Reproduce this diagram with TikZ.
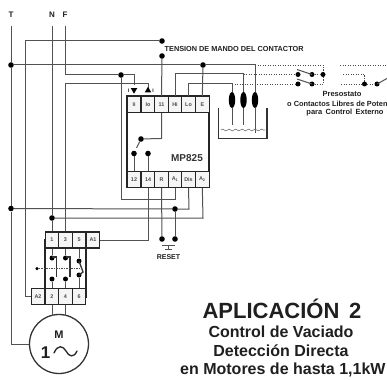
\documentclass[tikz,border=0pt]{standalone}
\usepackage{fontspec}
\setmainfont{Liberation Sans}
\usetikzlibrary{calc,decorations.pathmorphing,shapes.geometric}
\tikzset{
  wire/.style={draw=black!68,line width=1pt},
  heavy/.style={draw=black!80,line width=1.3pt},
  dotted wire/.style={draw=black!70,line width=0.8pt,dash pattern=on 1.2pt off 1.3pt},
  junction/.style={circle,fill=black,inner sep=0pt,minimum size=5.6pt},
  termbox/.style={draw=black!85,line width=1.2pt,fill=black!4,minimum width=13.7pt,minimum height=16pt,inner sep=0pt,text=black!70,font=\bfseries\fontsize{5.4}{6}\selectfont},
  tag/.style={inner sep=0pt,text=black!88,font=\bfseries\fontsize{#1}{#1}\selectfont},
  tag/.default=6,
  electrode/.style={ellipse,fill=black,inner sep=0pt,minimum width=6.4pt,minimum height=16pt},
  tipdown/.style={regular polygon,regular polygon sides=3,shape border rotate=180,fill=black,inner sep=0pt,minimum size=7.5pt},
  tipup/.style={regular polygon,regular polygon sides=3,fill=black,inner sep=0pt,minimum size=7.5pt}
}
\begin{document}
\begin{tikzpicture}[x=1pt,y=-1pt]
\useasboundingbox (0,0) rectangle (387,379);
% labels
\node[tag=8] (lT) at (11,15) {T};
\node[tag=8] (lN) at (52,15) {N};
\node[tag=8] (lF) at (65,15) {F};
\node[tag=7.3,anchor=west] (ltens) at (164.5,49) {TENSION DE MANDO DEL CONTACTOR};
% controller block
\node[draw=black!85,line width=1.2pt,minimum width=82pt,minimum height=91pt,inner sep=0pt] (mp) at (168,141.5) {};
\node[tag=10,text=black!80] (mpname) at (187,158) {MP825};
\foreach \n/\x/\t in {ii/134/Ii,io/148/Io,t11/161.5/11,hi/175/Hi,lo/188.5/Lo,e/202.3/E}
  \node[termbox] (\n) at (\x,104.5) {\t};
\foreach \n/\x/\t in {t12/134/12,t14/148/14,r/161.5/R,aa/175/A\textsubscript{1},dis/188.5/Dis,ab/202.3/A\textsubscript{2}}
  \node[termbox] (\n) at (\x,179.5) {\t};
% contactor
\node[draw=black!85,line width=1.2pt,minimum width=41pt,minimum height=57pt,inner sep=0pt] (km) at (65.5,268.5) {};
\foreach \n/\x/\t in {k1/52/1,k3/65.5/3,k5/79/5,ka1/93/A1}
  \node[termbox] (\n) at (\x,240) {\t};
\foreach \n/\x/\t in {ka2/38/A2,k2/52/2,k4/65.5/4,k6/79/6}
  \node[termbox] (\n) at (\x,296.5) {\t};
% motor
\node[circle,draw=black!80,line width=1.3pt,minimum size=59pt,inner sep=0pt] (mot) at (59,344) {};
\node[tag=11] (motM) at (59,335) {M};
\node[tag=17] (mot1) at (45.5,353) {1};
\draw[black!85,line width=1.3pt,line cap=round] (54,353) .. controls (58,344) and (63,346) .. (66,351) .. controls (69,357) and (74,358) .. (77,351);
% junctions
\node[junction] (jT1) at (11,65) {};
\node[junction] (jT2) at (11,208.5) {};
\node[junction] (jTop) at (162,41) {};
\node[junction] (jM) at (162,56) {};
\node[junction] (jF) at (121,75) {};
\node[junction] (jE) at (203,65) {};
\node[junction] (jC) at (141,139) {};
\node[junction] (c12) at (134,153.5) {};
\node[junction] (c14) at (148,153.5) {};
\node[junction] (jD) at (175,209) {};
\node[junction] (jN) at (52,218) {};
\node[junction] (rA) at (162,239) {};
\node[junction] (rB) at (175,239) {};
% electrodes
\node[electrode] (el1) at (232,100) {};
\node[electrode] (el2) at (243.5,100) {};
\node[electrode] (el3) at (255,100) {};
% main wires
\coordinate (tTop) at (11,26); \coordinate (nTop) at (52,26); \coordinate (fTop) at (65,26);
\draw[wire] (tTop) -- (jT1) -- (jT2) -- (11,344) -- (mot.west);
\draw[wire] (nTop) -- (jN) -- (k1.north);
\draw[wire] (k2.south) -- (52,316);
\draw[wire] (k4.south) -- (65.5,316);
\draw[wire] (fTop) -- (65,75) -- (jF) -- (134,75) -- (134,85);
\draw[wire] (jF) -- (121,199) -- (175,199) -- (aa.south);
\draw[wire] (jTop) -- (25,41) -- (25,296.5) -- (ka2.west);
\draw[wire] (k3.north) -- (65.5,84) -- (148,84) -- (148,88);
\draw[wire] (jT1) -- (jE) -- (255,65) -- (el3.north);
\draw[wire] (jE) -- (e.north);
\draw[wire] (jM) -- (t11.north);
\draw[wire] (t11.south) -- (161.5,138.5) -- (jC);
\draw[wire] (jT2) -- (jD) -- (189,209) -- (dis.south);
\draw[wire] (jN) -- (203,218) -- (ab.south);
\draw[wire] (ka1.east) -- (148,240) -- (t14.south);
\draw[wire] (r.south) -- (rA);
\draw[wire] (jD) -- (rB);
\draw[wire] (t12.north) -- (c12);
\draw[wire] (t14.north) -- (c14);
\draw[wire] (jC) -- (136.5,148);
\draw[wire] (hi.north) -- (175,74) -- (243.5,74) -- (el2.north);
\draw[wire] (lo.north) -- (188.5,84) -- (232,84) -- (el1.north);
\draw[wire] (el1.south) -- (232,125);
\draw[wire] (el2.south) -- (243.5,125);
\draw[wire] (el3.south) -- (255,133);
% input tips
\node[tipdown] (tipI) at (134,90) {};
\node[tipup] (tipO) at (148,90.5) {};
\node[tag=5] (markI) at (128.5,91) {I};
\node[tag=5] (markO) at (153,91) {I};
% tank
\draw[heavy] (218.5,108) -- (218.5,138.5) -- (267,138.5) -- (267,108);
\draw[black!55,line width=0.6pt,decorate,decoration={coil,aspect=0,segment length=6.5pt,amplitude=0.9pt}] (221,130) -- (265,130);
% reset button
\coordinate (rb) at (168.5,245);
\draw[wire] (162,245) -- (175,245);
\draw[wire] (rb) -- (168.5,249);
\draw[wire] (165,249) -- (172,249);
\node[tag=7] (lreset) at (168.5,257) {RESET};
% external contacts
\draw[dotted wire] (255,65) -- (323,65) -- (323,84);
\draw[dotted wire] (243.5,74) -- (297,74);
\draw[dotted wire] (232,84) -- (297,84);
\node[junction,minimum size=5pt] (ca1) at (298,74.5) {};
\node[junction,minimum size=5pt] (ca2) at (312,74.5) {};
\node[junction,minimum size=5pt] (cb1) at (298,84) {};
\node[junction,minimum size=5pt] (cb2) at (312,84) {};
\node[junction,minimum size=5pt] (cc) at (323,74.5) {};
\draw[dotted wire] (ca2) -- (cc);
\draw[dotted wire] (cb2) -- (323,84);
\draw[wire] (297,69.5) -- (312,74.5);
\draw[wire] (297,79) -- (312,84);
\draw[dotted wire] (340,65) -- (387,65);
\draw[dotted wire] (343,74.5) -- (364.5,74.5) -- (364.5,84);
\draw[dotted wire] (341,84) -- (364.5,84);
\node[junction,minimum size=5pt] (cd1) at (364.5,84) {};
\node[junction,minimum size=5pt] (cd2) at (377,84) {};
\draw[wire] (377,84) -- (387,78.5);
\draw[dotted wire] (cd1) -- (cd2);
\node[tag=7.5] (lp1) at (342,94) {Presostato};
\node[tag=7.4,anchor=west] (lp2) at (287,103.5) {o Contactos Libres de Poten};
\node[tag=7.5] (lp3) at (345,113) {para\, Control\, Externo};
% contactor contents
\node[junction,minimum size=5pt] (p1) at (52,258) {};
\node[junction,minimum size=5pt] (p2) at (65.5,258) {};
\node[junction,minimum size=5pt] (p3) at (79,261) {};
\node[junction,minimum size=5pt] (q1) at (52,279) {};
\node[junction,minimum size=5pt] (q2) at (65.5,279) {};
\node[junction,minimum size=5pt] (q3) at (79,275) {};
\draw[wire] (k3.south) -- (p2);
\draw[wire] (k5.south) -- (p3);
\draw[wire] (k1.south) -- (p1);
\draw[wire] (k2.north) -- (q1);
\draw[wire] (k4.north) -- (q2);
\draw[wire] (k6.north) -- (q3);
\foreach \x in {52,65.5}
  \draw[heavy] (\x,257) -- (\x+4.5,257) -- (\x+4.5,277);
\draw[heavy] (79,261) -- (83,272) -- (79,275);
\node[junction,minimum size=3.5pt] (mech) at (37,268.5) {};
\draw[dotted wire] (mech) -- (82,268.5);
% title
\node[tag=22] (tit) at (282,308.5) {APLICACIÓN\, 2};
\node[tag=16] (t1) at (281,332) {Control de Vaciado};
\node[tag=16] (t2) at (281,351) {Detección Directa};
\node[tag=16,anchor=west] (t3) at (180,370) {en Motores de hasta 1,1kW};
\end{tikzpicture}
\end{document}
